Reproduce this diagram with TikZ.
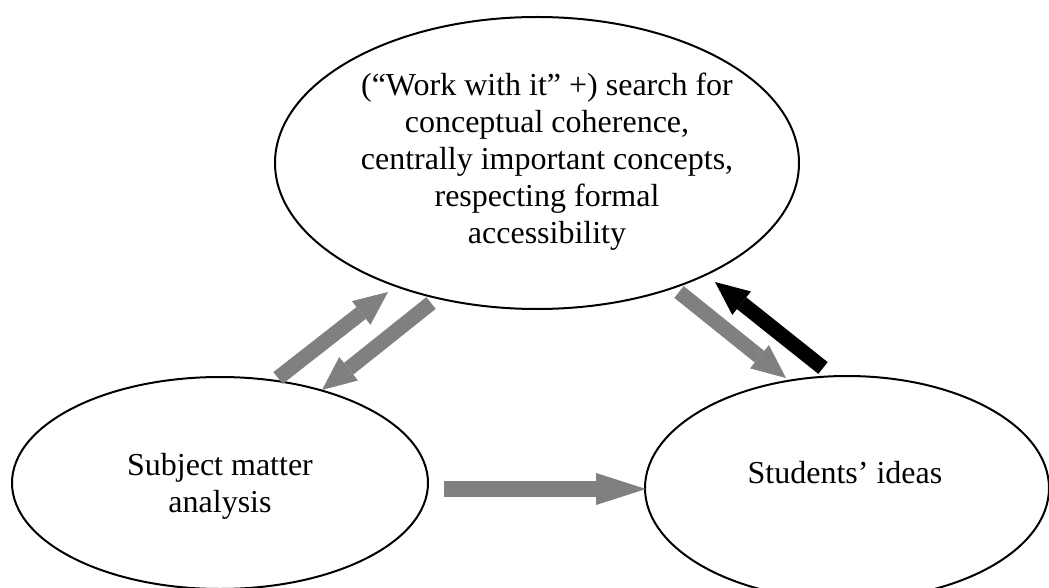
\documentclass[tikz,border=0pt]{standalone}
\usepackage{fontspec}
\setmainfont{Liberation Serif}
\usetikzlibrary{shapes.geometric,arrows.meta}
\definecolor{arrgray}{RGB}{128,128,128}
\begin{document}
\begin{tikzpicture}[x=0.75pt,y=-0.75pt,
  oval/.style={ellipse,draw,line width=1.5pt,inner sep=0pt},
  lbl/.style={font=\fontsize{24}{27.75}\selectfont,align=center,inner sep=0pt},
  blk/.style={line width=11.25pt,-{Triangle[length=25.5pt,width=22.5pt,line width=0pt]}},
  blkh/.style={line width=12pt,-{Triangle[length=37.5pt,width=24pt,line width=0pt]}}]
\useasboundingbox (0,0) rectangle (1049,588);
\node[oval,minimum width=393pt,minimum height=219pt] (top) at (537,163) {};
\node[oval,minimum width=312pt,minimum height=159pt] (left) at (220,483) {};
\node[oval,minimum width=303pt,minimum height=168pt] (right) at (847,488) {};
\node[lbl] (toptext) at (547,162) {(“Work with it” +) search for\\conceptual coherence,\\centrally important concepts,\\respecting formal\\accessibility};
\node[lbl] (lefttext) at (220,486) {Subject matter\\analysis};
\node[lbl] (righttext) at (845,473) {Students’ ideas};
\coordinate (a1s) at (278,378); \coordinate (a1e) at (388,292);
\coordinate (a2s) at (431,303); \coordinate (a2e) at (322,390);
\coordinate (a3s) at (679,292); \coordinate (a3e) at (786,378);
\coordinate (a4s) at (823,368); \coordinate (a4e) at (715,282);
\coordinate (a5s) at (444,489); \coordinate (a5e) at (646,489);
\draw[blk,arrgray] (a1s) -- (a1e);
\draw[blk,arrgray] (a2s) -- (a2e);
\draw[blk,arrgray] (a3s) -- (a3e);
\draw[blk,black] (a4s) -- (a4e);
\draw[blkh,arrgray] (a5s) -- (a5e);
\end{tikzpicture}
\end{document}
